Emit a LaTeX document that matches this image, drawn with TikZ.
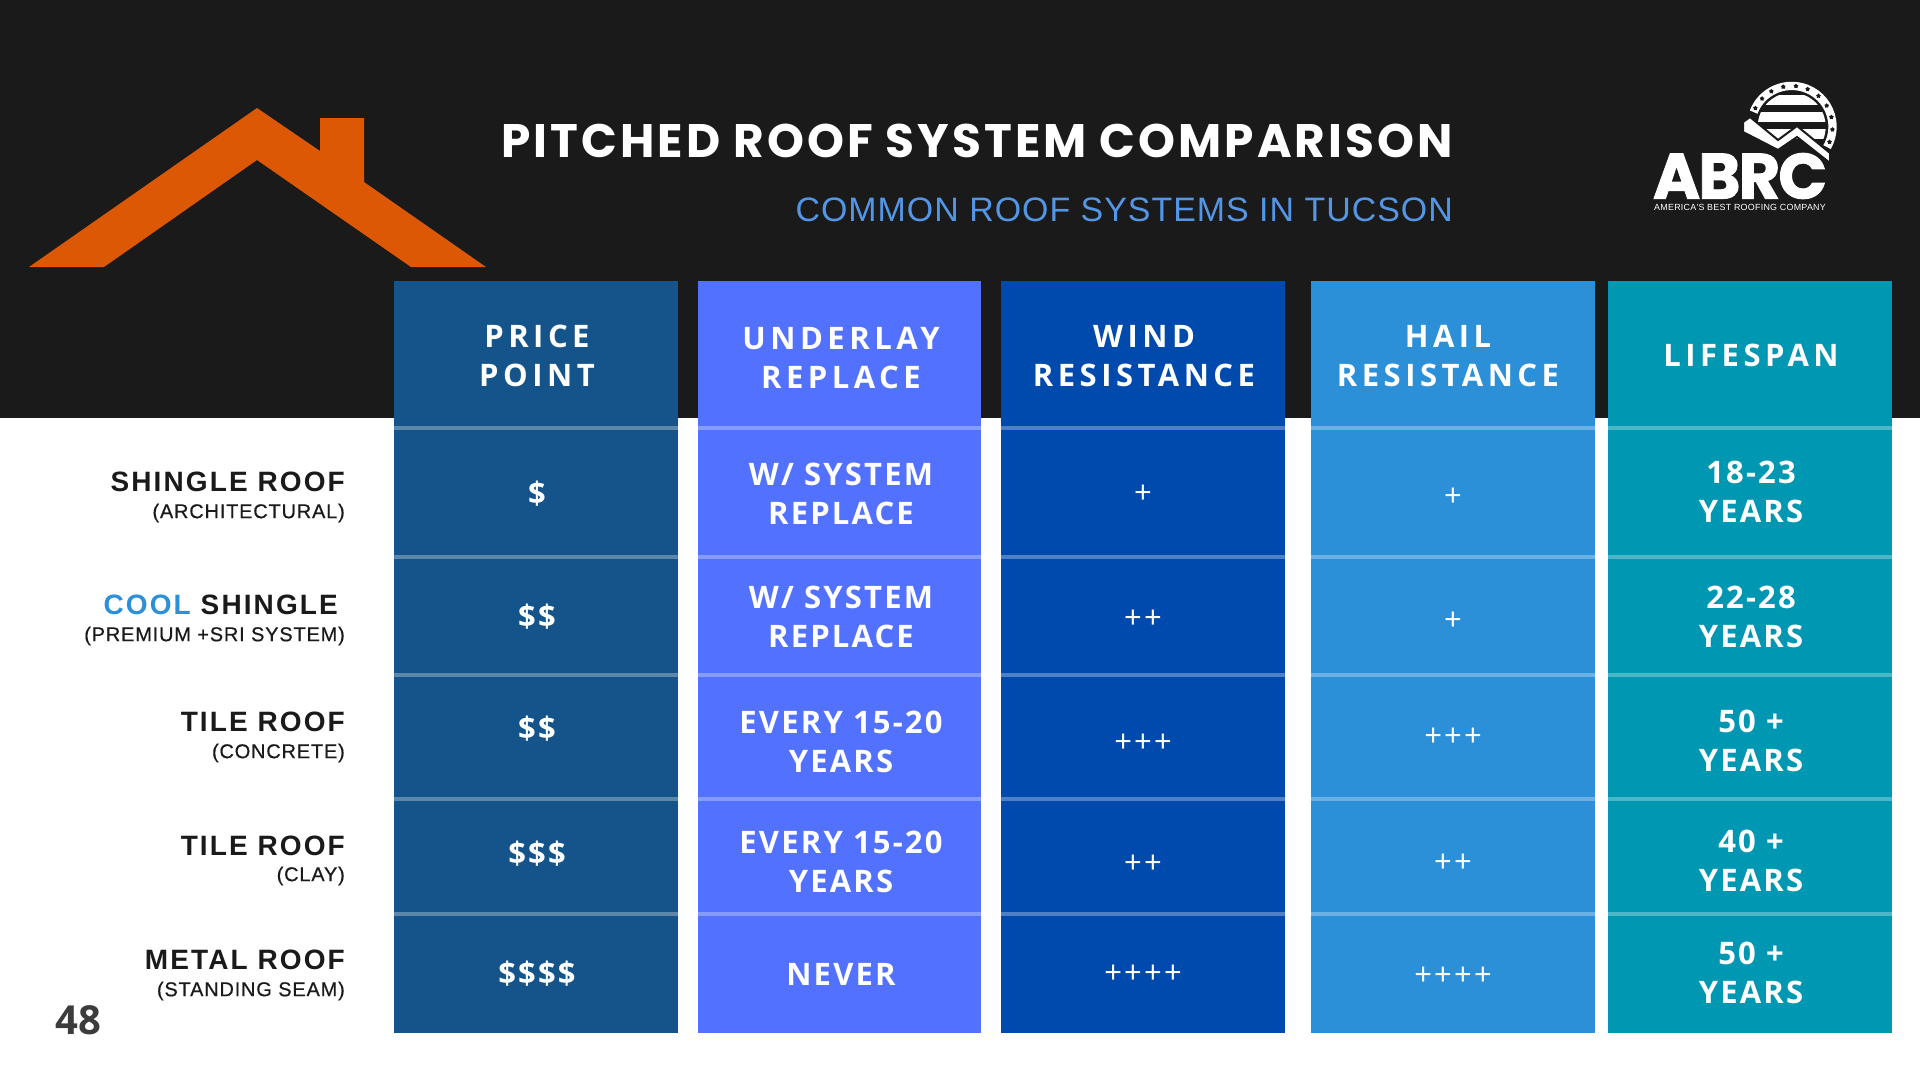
\documentclass[tikz,border=0pt]{standalone}
\usepackage{fontspec}
\usepackage{xcolor}
\setmainfont{Open Sans}
\newfontfamily\titlefont[LetterSpace=6.5]{Poppins}
\newfontfamily\logofont[LetterSpace=-3,FakeBold=1.5]{Poppins}
\newfontfamily\headfont[LetterSpace=14.5]{Open Sans}
\newfontfamily\cellfont[LetterSpace=7]{Open Sans}
\newfontfamily\rownamefont[LetterSpace=7.5]{Liberation Sans}
\newfontfamily\rowsubfont[LetterSpace=4,FakeBold=0.5]{Liberation Sans}
\newfontfamily\subtitlefont[LetterSpace=3]{Liberation Sans}
\usetikzlibrary{shapes.geometric}
\definecolor{roofdark}{RGB}{26, 26, 26}
\definecolor{rooforange}{RGB}{221, 88, 4}
\definecolor{priceblue}{RGB}{21, 84, 138}
\definecolor{underblue}{RGB}{82, 113, 255}
\definecolor{windblue}{RGB}{0, 74, 173}
\definecolor{hailblue}{RGB}{44, 144, 216}
\definecolor{lifeteal}{RGB}{0, 151, 178}
\definecolor{subblue}{RGB}{84, 150, 230}
\tikzset{
    cellbox/.style={minimum width=#1, minimum height=10pt, inner sep=0pt, align=center, text=white,
        font=\cellfont\bfseries\fontsize{31}{39}\selectfont},
    headbox/.style={cellbox=#1, font=\headfont\bfseries\fontsize{31}{39}\selectfont},
    plusbox/.style={cellbox=#1, font=\cellfont\fontsize{31}{39}\selectfont},
    rowname/.style={anchor=east, inner sep=0pt, text=roofdark, font=\rownamefont\bfseries\fontsize{28}{32}\selectfont},
    rowsub/.style={anchor=east, inner sep=0pt, text=roofdark, font=\rowsubfont\fontsize{20}{24}\selectfont},
    divider/.style={line width=4pt, white, opacity=0.3},
    logostar/.style={star, star points=5, fill=roofdark, inner sep=0pt, minimum size=5pt}
}
\begin{document}
\begin{tikzpicture}[x=1pt, y=-1pt]
    \useasboundingbox (0,0) rectangle (1920,1080);
    \fill[white] (0,0) rectangle (1920,1080);
    \fill[roofdark] (0,0) rectangle (1920,418);
    % roof
    \fill[rooforange] (29,267) -- (257,108) -- (320,151) -- (320,118) -- (364,118) -- (364,182) -- (486,267) -- (411,267) -- (257,160) -- (104,267) -- cycle;
    % heading
    \node[text=white, inner sep=0pt, anchor=east, font=\titlefont\bfseries\fontsize{47}{50}\selectfont] (title) at (1453,141) {PITCHED ROOF SYSTEM COMPARISON};
    \node[text=subblue, inner sep=0pt, anchor=east, font=\subtitlefont\fontsize{33.9}{40}\selectfont] (subtitle) at (1453,210) {COMMON ROOF SYSTEMS IN TUCSON};
    % logo
    \begin{scope}[shift={(1791.7,126.7)}, y=1pt]
        \draw[white, line width=8.3pt] (159:40.8) arc[start angle=159, end angle=-30, radius=40.8];
        \node[logostar] (starA) at (153:40.8) {};
        \node[logostar] (starK) at (136.6:40.8) {};
        \node[logostar] (starB) at (120:40.8) {};
        \node[logostar] (starC) at (102:40.8) {};
        \node[logostar] (starD) at (84:40.8) {};
        \node[logostar] (starE) at (67:40.8) {};
        \node[logostar] (starF) at (49:40.8) {};
        \node[logostar] (starG) at (31:40.8) {};
        \node[logostar] (starH) at (13.5:40.8) {};
        \node[logostar] (starI) at (-4:40.8) {};
        \node[logostar] (starJ) at (-22:40.8) {};
        \begin{scope}
            \clip (0,0) circle (34);
            \fill[white] (-40,31.7) rectangle (40,21.7);
            \fill[white] (-40,15) rectangle (40,4.3);
            \fill[white] (-40,-2.3) rectangle (40,-12.3);
        \end{scope}
    \end{scope}
    \fill[white, draw=roofdark, line width=2pt] (1743,122) -- (1750,117) -- (1778,140) -- (1797,126) -- (1830,153) -- (1830,163) -- (1797,137) -- (1778,150) -- (1743,132) -- cycle;
    \node[text=white, inner sep=0pt, font=\logofont\bfseries\fontsize{64}{64}\selectfont] (logo) at (1740,176) {ABRC};
    \node[text=white, inner sep=0pt, font=\subtitlefont\fontsize{8.9}{10}\selectfont] (logotag) at (1740,207) {AMERICA'S BEST ROOFING COMPANY};
    % columns
    \fill[priceblue] (394,281) rectangle (678,1033);
    \fill[underblue] (698,281) rectangle (981,1033);
    \fill[windblue] (1001,281) rectangle (1285,1033);
    \fill[hailblue] (1311,281) rectangle (1595,1033);
    \fill[lifeteal] (1608,281) rectangle (1892,1033);
    % header row
    \node[headbox=284pt] (pricehead) at (537,356) {PRICE\\POINT};
    \node[headbox=283pt] (underhead) at (841,358) {UNDERLAY\\REPLACE};
    \node[headbox=285pt] (windhead) at (1144,356) {WIND\\RESISTANCE};
    \node[headbox=285pt] (hailhead) at (1448,356) {HAIL\\RESISTANCE};
    \node[headbox=284pt] (lifehead) at (1751,355) {LIFESPAN};
    % row names
    \node[rowname] (shingle) at (345,482) {SHINGLE ROOF};
    \node[rowsub] (shinglesub) at (345,513) {(ARCHITECTURAL)};
    \node[rowname] (cool) at (338,605) {{\color{hailblue}COOL} SHINGLE};
    \node[rowsub] (coolsub) at (345,636) {(PREMIUM +SRI SYSTEM)};
    \node[rowname] (tile) at (345,722) {TILE ROOF};
    \node[rowsub] (tilesub) at (345,753) {(CONCRETE)};
    \node[rowname] (clay) at (345,846) {TILE ROOF};
    \node[rowsub] (claysub) at (345,876) {(CLAY)};
    \node[rowname] (metal) at (345,960) {METAL ROOF};
    \node[rowsub] (metalsub) at (345,991) {(STANDING SEAM)};
    % price
    \node[cellbox=284pt] (priceA) at (537,494) {\$};
    \node[cellbox=284pt] (priceB) at (537,617) {\$\$};
    \node[cellbox=284pt] (priceC) at (537,729) {\$\$};
    \node[cellbox=284pt] (priceD) at (537,854) {\$\$\$};
    \node[cellbox=284pt] (priceE) at (537,974) {\$\$\$\$};
    % underlayment
    \node[cellbox=283pt] (underA) at (841,494) {W/ SYSTEM\\REPLACE};
    \node[cellbox=283pt] (underB) at (841,617) {W/ SYSTEM\\REPLACE};
    \node[cellbox=283pt] (underC) at (841,742) {EVERY 15-20\\YEARS};
    \node[cellbox=283pt] (underD) at (841,862) {EVERY 15-20\\YEARS};
    \node[cellbox=283pt] (underE) at (841,974) {NEVER};
    % wind
    \node[plusbox=285pt] (windA) at (1143,494) {+};
    \node[plusbox=285pt] (windB) at (1143,619) {++};
    \node[plusbox=285pt] (windC) at (1143,743) {+++};
    \node[plusbox=285pt] (windD) at (1143,864) {++};
    \node[plusbox=285pt] (windE) at (1143,974) {++++};
    % hail
    \node[plusbox=285pt] (hailA) at (1453,497) {+};
    \node[plusbox=285pt] (hailB) at (1453,621) {+};
    \node[plusbox=285pt] (hailC) at (1453,737) {+++};
    \node[plusbox=285pt] (hailD) at (1453,863) {++};
    \node[plusbox=285pt] (hailE) at (1453,976) {++++};
    % lifespan
    \node[cellbox=284pt] (lifeA) at (1751,492) {18-23\\YEARS};
    \node[cellbox=284pt] (lifeB) at (1751,617) {22-28\\YEARS};
    \node[cellbox=284pt] (lifeC) at (1751,741) {50 +\\YEARS};
    \node[cellbox=284pt] (lifeD) at (1751,861) {40 +\\YEARS};
    \node[cellbox=284pt] (lifeE) at (1751,973) {50 +\\YEARS};
    % dividers
    \draw[divider] (394,428) -- (678,428);
    \draw[divider] (394,557) -- (678,557);
    \draw[divider] (394,675) -- (678,675);
    \draw[divider] (394,799) -- (678,799);
    \draw[divider] (394,914) -- (678,914);
    \draw[divider] (698,428) -- (981,428);
    \draw[divider] (698,557) -- (981,557);
    \draw[divider] (698,675) -- (981,675);
    \draw[divider] (698,799) -- (981,799);
    \draw[divider] (698,914) -- (981,914);
    \draw[divider] (1001,428) -- (1285,428);
    \draw[divider] (1001,557) -- (1285,557);
    \draw[divider] (1001,675) -- (1285,675);
    \draw[divider] (1001,799) -- (1285,799);
    \draw[divider] (1001,914) -- (1285,914);
    \draw[divider] (1311,428) -- (1595,428);
    \draw[divider] (1311,557) -- (1595,557);
    \draw[divider] (1311,675) -- (1595,675);
    \draw[divider] (1311,799) -- (1595,799);
    \draw[divider] (1311,914) -- (1595,914);
    \draw[divider] (1608,428) -- (1892,428);
    \draw[divider] (1608,557) -- (1892,557);
    \draw[divider] (1608,675) -- (1892,675);
    \draw[divider] (1608,799) -- (1892,799);
    \draw[divider] (1608,914) -- (1892,914);
    % page number
    \node[inner sep=0pt, text=roofdark!85, font=\bfseries\fontsize{40}{44}\selectfont] (pagenum) at (78,1020) {48};
\end{tikzpicture}
\end{document}
